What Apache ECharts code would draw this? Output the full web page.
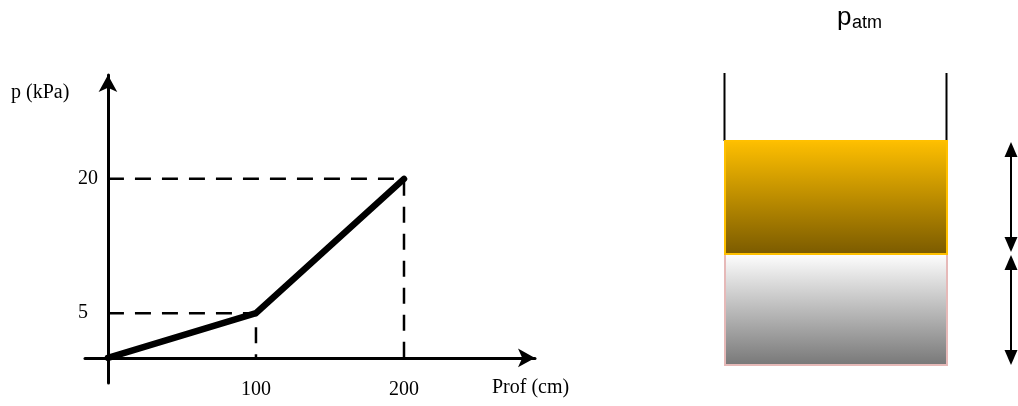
<!DOCTYPE html>
<html>
<head>
<meta charset="utf-8">
<script src="https://cdn.jsdelivr.net/npm/echarts@6/dist/echarts.min.js"></script>
<style>
  html, body { margin: 0; padding: 0; background: #ffffff; }
  #chart { width: 1018px; height: 406px; }
</style>
</head>
<body>
<div id="chart"></div>
<script>
// ---- data ----
const depthCm = [0, 100, 200];          // Prof (cm)
const pressureKPa = [0, 5, 20];         // p (kPa)
const xTickValues = [100, 200];
const yTickValues = [5, 20];
const yAxisName = 'p (kPa)';
const xAxisName = 'Prof (cm)';

const serif = "'Liberation Serif', 'Times New Roman', serif";
const sans = "'Liberation Sans', Arial, sans-serif";

const mainLine = depthCm.map((d, i) => [d, pressureKPa[i]]);
// dashed guide lines for each non-origin point: (0,p) -> (d,p) -> (d,0)
const guideSeries = depthCm
  .map((d, i) => ({ d, p: pressureKPa[i] }))
  .filter(pt => pt.d !== 0)
  .map(pt => ({
    type: 'line',
    data: [[0, pt.p], [pt.d, pt.p], [pt.d, 0]],
    symbol: 'none',
    silent: true,
    z: 1,
    lineStyle: { color: '#000', width: 2.5, type: [16, 11] }
  }));

const chart = echarts.init(document.getElementById('chart'), null, { renderer: 'canvas' });

function arrowGraphic(x, yTop, yBot) {
  const hw = 6.5, hl = 15;
  return [
    { type: 'line', shape: { x1: x, y1: yTop + 4, x2: x, y2: yBot - 4 }, style: { stroke: '#000', lineWidth: 2 } },
    { type: 'polygon', shape: { points: [[x, yTop], [x - hw, yTop + hl], [x + hw, yTop + hl]] }, style: { fill: '#000' } },
    { type: 'polygon', shape: { points: [[x, yBot], [x - hw, yBot - hl], [x + hw, yBot - hl]] }, style: { fill: '#000' } }
  ];
}

const option = {
  backgroundColor: '#ffffff',
  animation: false,
  grid: { left: 85, right: 483, top: 75, bottom: 23, containLabel: false, outerBoundsMode: 'none' },
  xAxis: {
    type: 'value',
    min: -15.5,
    max: 288.5,
    splitLine: { show: false },
    axisTick: { show: false },
    axisLine: {
      onZero: true,
      symbol: ['none', 'arrow'],
      symbolSize: [14, 17],
      lineStyle: { color: '#000', width: 3 }
    },
    axisLabel: {
      customValues: xTickValues,
      margin: -3,
      color: '#000',
      fontFamily: serif,
      fontSize: 20
    }
  },
  yAxis: {
    type: 'value',
    min: -2.8,
    max: 31.6,
    splitLine: { show: false },
    axisTick: { show: false },
    axisLine: {
      onZero: true,
      symbol: ['none', 'arrow'],
      symbolSize: [14, 17],
      lineStyle: { color: '#000', width: 3 }
    },
    axisLabel: {
      customValues: yTickValues,
      margin: 7,
      align: 'left',
      color: '#000',
      fontFamily: serif,
      fontSize: 20
    }
  },
  series: [
    ...guideSeries,
    {
      type: 'line',
      data: mainLine,
      symbol: 'none',
      z: 3,
      lineStyle: { color: '#000', width: 6.5, cap: 'round', join: 'round' }
    }
  ],
  graphic: [
    { type: 'text', left: 11, top: 83, style: { text: yAxisName, fontFamily: serif, fontSize: 20, fill: '#000' } },
    { type: 'text', left: 492, top: 378, style: { text: xAxisName, fontFamily: serif, fontSize: 20, fill: '#000' } },
    // p_atm label
    { type: 'text', left: 837, top: 5, style: { text: 'p', fontFamily: sans, fontSize: 26, fill: '#000' } },
    { type: 'text', left: 852, top: 14, style: { text: 'atm', fontFamily: sans, fontSize: 18, fill: '#000' } },
    // container walls
    { type: 'line', shape: { x1: 724.5, y1: 73, x2: 724.5, y2: 141 }, style: { stroke: '#000', lineWidth: 2 } },
    { type: 'line', shape: { x1: 946.5, y1: 73, x2: 946.5, y2: 141 }, style: { stroke: '#000', lineWidth: 2 } },
    // lower (grey) layer
    {
      type: 'rect', shape: { x: 725, y: 254, width: 222, height: 111 },
      style: {
        fill: { type: 'linear', x: 0, y: 0, x2: 0, y2: 1, colorStops: [
          { offset: 0, color: '#ffffff' }, { offset: 1, color: '#777777' } ] },
        stroke: '#e6b9b8', lineWidth: 2
      }
    },
    // upper (orange) layer
    {
      type: 'rect', shape: { x: 725, y: 141, width: 222, height: 113 },
      style: {
        fill: { type: 'linear', x: 0, y: 0, x2: 0, y2: 1, colorStops: [
          { offset: 0, color: '#ffc000' }, { offset: 1, color: '#7a5a00' } ] },
        stroke: '#ffc000', lineWidth: 2
      }
    },
    ...arrowGraphic(1011, 142, 252),
    ...arrowGraphic(1011, 255, 365)
  ]
};

chart.setOption(option);
</script>
</body>
</html>
